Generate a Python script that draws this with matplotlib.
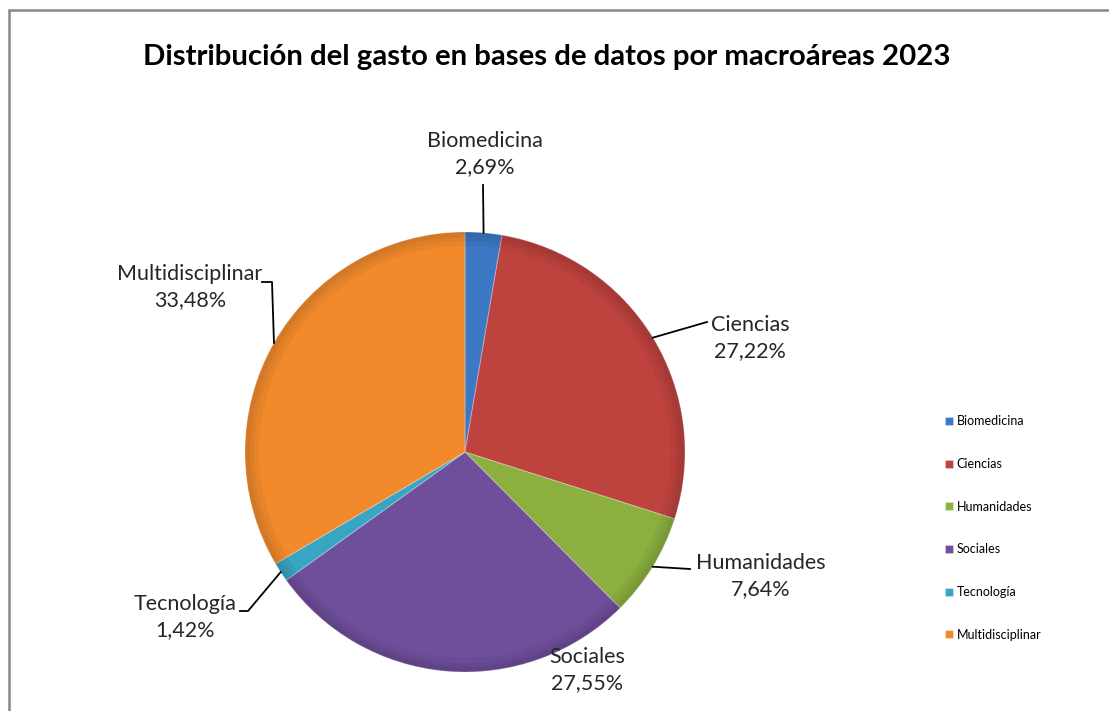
#!/usr/bin/env python3

import numpy as np
import matplotlib
matplotlib.use('Agg')
import matplotlib.pyplot as plt
from matplotlib.patches import Rectangle

# datos: gasto en bases de datos por macroárea (%)
areas = ['Biomedicina', 'Ciencias', 'Humanidades', 'Sociales', 'Tecnología', 'Multidisciplinar']
porcentajes = [2.69, 27.22, 7.64, 27.55, 1.42, 33.48]
etiquetas_pct = ['2,69%', '27,22%', '7,64%', '27,55%', '1,42%', '33,48%']
colores = ['#3C78C4', '#BE423E', '#8CB040', '#6F4F9C', '#38A5C2', '#F28A2C']

W, H = 1109, 711


def py(y):
    # coordenadas de pixel (origen arriba) -> datos
    return H - y


def main():
    plt.rcParams['font.family'] = ['Lato', 'DejaVu Sans']
    fig = plt.figure(figsize=(W / 100, H / 100), dpi=100)
    ax = fig.add_axes([0, 0, 1, 1])

    # marco del gráfico
    ax.add_patch(Rectangle((9, py(10) - 800), 1200, 800, fill=False,
                           edgecolor='#878787', lw=1.8))

    cx, cy, r = 465, py(452), 220
    wedges, _ = ax.pie(porcentajes, colors=colores, startangle=90, counterclock=False,
                       center=(cx, cy), radius=r, frame=True,
                       wedgeprops=dict(edgecolor=(1, 1, 1, 0.25), lw=0.8))

    # bisel: borde algo más oscuro, en capas suaves
    for ancho in (14, 9, 5):
        ax.pie([1], radius=r, center=(cx, cy), colors=['black'], frame=True,
               wedgeprops=dict(width=ancho, alpha=0.045, edgecolor='none'))
    ax.set_xlim(0, W)
    ax.set_ylim(0, H)
    ax.set_aspect('equal')
    ax.axis('off')

    # posición de etiquetas (pixel) y codo de la línea guía
    pos_texto = [(485, 154), (750, 338), (761, 576), (587, 670), (185, 617), (190, 287)]
    codos = [[(483, 185)], [(707, 322)], [(690, 569)], [],
             [(248, 611), (240, 611)], [(272, 282), (262, 282)]]

    for w, nombre, pct, (tx, ty), codo in zip(wedges, areas, etiquetas_pct, pos_texto, codos):
        ang = np.deg2rad((w.theta1 + w.theta2) / 2)
        ax.text(tx, py(ty), nombre + '\n' + pct, ha='center', va='center',
                fontsize=15.5, color='#262626', linespacing=1.35)
        if codo:
            ex, ey = cx + r * np.cos(ang), cy + r * np.sin(ang)
            xs = [ex] + [p[0] for p in codo]
            ys = [ey] + [py(p[1]) for p in codo]
            ax.plot(xs, ys, color='black', lw=1.3)

    ax.text(547, py(57), 'Distribución del gasto en bases de datos por macroáreas 2023',
            ha='center', va='center', fontsize=21.2, fontweight='bold', color='black')

    ax.legend(wedges, areas, loc='center left', frameon=False,
              bbox_to_anchor=(934 / W, 1 - 528 / H), fontsize=9,
              handlelength=0.6, handleheight=0.6, handletextpad=0.3,
              labelspacing=2.45)

    fig.savefig('out.png', dpi=100)


if __name__ == '__main__':
    main()
